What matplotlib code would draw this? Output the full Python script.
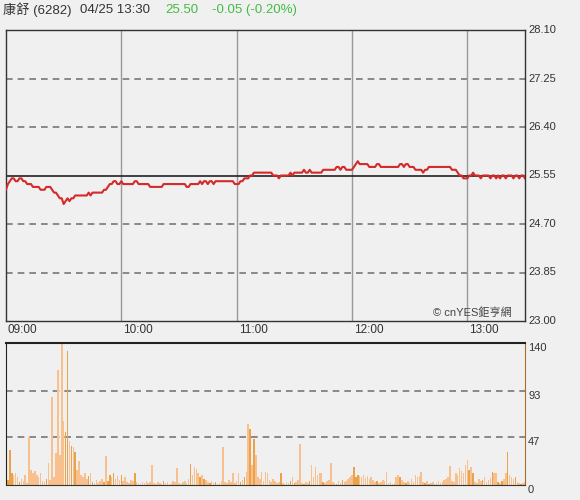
import numpy as np
import matplotlib
matplotlib.use("Agg")
import matplotlib.pyplot as plt

plt.rcParams['font.family'] = ['Liberation Sans', 'Noto Sans CJK TC', 'DejaVu Sans']

# ---- data (one value per minute, 09:00 -> 13:30) ----
price = [
    25.30, 25.40, 25.45, 25.50, 25.50, 25.45, 25.45, 25.50, 25.50, 25.45,
    25.45, 25.40, 25.40, 25.40, 25.35, 25.35, 25.35, 25.35, 25.30, 25.30,
    25.30, 25.35, 25.35, 25.35, 25.30, 25.25, 25.25, 25.20, 25.15, 25.15,
    25.05, 25.10, 25.15, 25.10, 25.15, 25.15, 25.20, 25.20, 25.20, 25.20,
    25.20, 25.20, 25.20, 25.25, 25.20, 25.25, 25.25, 25.25, 25.25, 25.25,
    25.25, 25.30, 25.30, 25.35, 25.40, 25.40, 25.45, 25.45, 25.40, 25.40,
    25.45, 25.40, 25.40, 25.40, 25.40, 25.40, 25.40, 25.45, 25.45, 25.40,
    25.40, 25.40, 25.40, 25.40, 25.40, 25.35, 25.35, 25.35, 25.35, 25.35,
    25.35, 25.35, 25.40, 25.40, 25.40, 25.40, 25.40, 25.40, 25.40, 25.40,
    25.40, 25.40, 25.40, 25.40, 25.35, 25.35, 25.40, 25.40, 25.40, 25.40,
    25.40, 25.45, 25.40, 25.45, 25.45, 25.40, 25.45, 25.45, 25.40, 25.45,
    25.45, 25.45, 25.45, 25.45, 25.45, 25.45, 25.45, 25.45, 25.45, 25.40,
    25.40, 25.40, 25.45, 25.45, 25.50, 25.50, 25.50, 25.55, 25.55, 25.60,
    25.60, 25.60, 25.60, 25.60, 25.60, 25.60, 25.60, 25.60, 25.60, 25.55,
    25.55, 25.55, 25.50, 25.55, 25.55, 25.55, 25.55, 25.55, 25.60, 25.55,
    25.60, 25.60, 25.60, 25.60, 25.60, 25.65, 25.60, 25.60, 25.65, 25.60,
    25.60, 25.60, 25.60, 25.60, 25.60, 25.65, 25.65, 25.65, 25.65, 25.65,
    25.65, 25.65, 25.70, 25.70, 25.65, 25.70, 25.70, 25.65, 25.65, 25.65,
    25.65, 25.70, 25.75, 25.80, 25.75, 25.75, 25.75, 25.75, 25.75, 25.70,
    25.70, 25.70, 25.70, 25.75, 25.75, 25.70, 25.70, 25.70, 25.70, 25.70,
    25.70, 25.70, 25.70, 25.70, 25.70, 25.75, 25.75, 25.70, 25.75, 25.75,
    25.70, 25.70, 25.70, 25.65, 25.65, 25.65, 25.65, 25.60, 25.65, 25.65,
    25.70, 25.70, 25.70, 25.70, 25.70, 25.70, 25.70, 25.70, 25.70, 25.70,
    25.70, 25.70, 25.65, 25.65, 25.65, 25.60, 25.55, 25.55, 25.50, 25.50,
    25.50, 25.55, 25.55, 25.60, 25.55, 25.55, 25.55, 25.50, 25.55, 25.55,
    25.55, 25.55, 25.50, 25.55, 25.55, 25.50, 25.55, 25.50, 25.55, 25.55,
    25.50, 25.55, 25.55, 25.55, 25.50, 25.55, 25.55, 25.50, 25.55, 25.55,
    25.50,
]

volume = [
    68, 5, 35, 12, 10, 12, 8, 3, 6, 4,
    10, 2, 47, 15, 12, 14, 10, 8, 12, 4,
    3, 6, 22, 5, 87, 8, 32, 113, 30, 140,
    63, 52, 132, 43, 38, 37, 33, 15, 24, 10,
    8, 12, 6, 9, 12, 3, 2, 5, 2, 4,
    6, 3, 29, 4, 10, 8, 12, 6, 9, 5,
    10, 4, 8, 3, 2, 5, 4, 12, 3, 2,
    1, 3, 2, 4, 2, 3, 20, 2, 1, 3,
    2, 1, 4, 2, 3, 1, 2, 4, 3, 17,
    2, 1, 3, 4, 2, 6, 21, 10, 18, 16,
    12, 8, 10, 6, 5, 3, 2, 4, 2, 3,
    1, 2, 4, 37, 3, 2, 5, 3, 12, 2,
    4, 12, 3, 5, 8, 13, 60, 55, 20, 45,
    30, 8, 6, 13, 4, 13, 12, 5, 3, 6,
    4, 2, 3, 12, 2, 1, 3, 2, 4, 8,
    2, 3, 5, 40, 2, 1, 3, 2, 4, 20,
    8, 18, 10, 12, 12, 3, 2, 4, 5, 22,
    3, 2, 1, 4, 2, 5, 3, 4, 6, 8,
    10, 18, 8, 10, 9, 8, 10, 7, 9, 6,
    8, 5, 3, 4, 2, 3, 5, 4, 13, 2,
    3, 1, 2, 8, 10, 8, 5, 3, 2, 4,
    2, 6, 3, 10, 8, 9, 13, 3, 2, 4,
    1, 2, 3, 1, 2, 4, 2, 3, 5, 6,
    8, 19, 4, 3, 12, 10, 17, 14, 12, 20,
    25, 15, 18, 12, 3, 2, 6, 4, 5, 8,
    3, 5, 7, 13, 12, 12, 3, 2, 4, 6,
    12, 33, 10, 8, 6, 8, 3, 2, 1, 2,
    3,
]

prev_close = 25.55
price_ticks = [23.00, 23.85, 24.70, 25.55, 26.40, 27.25, 28.10]
vol_ticks = [0, 47, 93, 140]
hour_labels = ['09:00', '10:00', '11:00', '12:00', '13:00']
hour_pos = [0, 60, 120, 180, 240]

minutes = np.arange(len(price))
bg = '#f0f0f0'

fig = plt.figure(figsize=(5.8, 5.0), dpi=100, facecolor=bg)
ax = fig.add_axes([6/580, 1 - 321/500, 519/580, 291/500], facecolor=bg)
axv = fig.add_axes([6/580, 1 - 485/500, 519/580, 142/500], facecolor=bg)

# ---- price panel ----
for p in price_ticks[1:-1]:
    if p == prev_close:
        ax.axhline(p, color='#222222', lw=1.2, zorder=2)
    else:
        ax.axhline(p, color='#777777', lw=1.2, dashes=(4, 3), zorder=1)
for h in hour_pos[1:]:
    ax.axvline(h, color='#999999', lw=1, zorder=1)

ax.plot(minutes, price, color='#d42a2a', lw=1.5, zorder=3)
ax.set_xlim(0, 270)
ax.set_ylim(23.00, 28.10)
ax.set_xticks([])
ax.set_yticks([])
for s in ax.spines.values():
    s.set_color('#333333')
    s.set_linewidth(1)

for p in price_ticks:
    ax.text(1.006, (p - 23.0) / 5.1, f'{p:.2f}', transform=ax.transAxes,
            ha='left', va='center', fontsize=8, color='#333333')
for h, lab in zip(hour_pos, hour_labels):
    ax.text(h + 1.0, -0.012, lab, transform=ax.get_xaxis_transform(),
            ha='left', va='top', fontsize=8.5, color='#333333')
ax.text(0.975, 0.012, '© cnYES鉅亨網', transform=ax.transAxes,
        ha='right', va='bottom', fontsize=8, color='#444444')

# ---- volume panel ----
for v in vol_ticks[1:-1]:
    axv.axhline(v, color='#777777', lw=1.2, dashes=(4, 3), zorder=1)

up = np.r_[False, np.diff(price) > 0]
colors = ['#eba24a' if u else '#f7c08c' for u in up]
axv.bar(minutes, volume, width=0.8, color=colors, linewidth=0,
        antialiased=False, zorder=2)
axv.set_xlim(0, 270)
axv.set_ylim(0, 140)
axv.set_xticks([])
axv.set_yticks([])
axv.spines['left'].set_color('#222222')
axv.spines['top'].set_color('#222222')
axv.spines['top'].set_linewidth(1.5)
axv.spines['right'].set_color('#b06a20')
axv.spines['bottom'].set_color('#333333')

for v in vol_ticks:
    axv.text(1.006, v / 140, str(v), transform=axv.transAxes,
             ha='left', va='top', fontsize=8, color='#333333')

# ---- header ----
fig.text(3/580, 1 - 10/500, '康舒 (6282)', ha='left', va='center', fontsize=9.5, color='#333333')
fig.text(80/580, 1 - 10/500, '04/25 13:30', ha='left', va='center', fontsize=9.5, color='#333333')
fig.text(165/580, 1 - 10/500, '25.50', ha='left', va='center', fontsize=9.5, color='#44bb44')
fig.text(212/580, 1 - 10/500, '-0.05 (-0.20%)', ha='left', va='center', fontsize=9.5, color='#44bb44')

fig.savefig('out.png', dpi=100, facecolor=bg)
